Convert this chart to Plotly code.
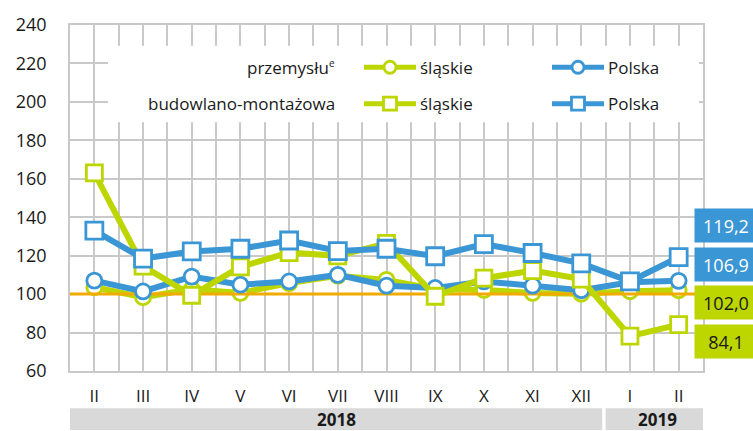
import plotly.graph_objects as go

months = ["II", "III", "IV", "V", "VI", "VII", "VIII", "IX", "X", "XI", "XII", "I", "II"]
years = ["2018", "2019"]
year_spans = [(-0.5, 10.43), (10.5, 12.65)]

ind_slaskie = [103.6, 98.4, 102.5, 100.6, 105.7, 109.6, 107.4, 102.6, 102.2, 100.6, 100.2, 101.5, 102.0]
ind_polska = [107.0, 101.4, 109.1, 104.9, 106.6, 110.0, 104.4, 103.2, 106.6, 104.4, 102.0, 106.2, 106.9]
bud_slaskie = [163.1, 114.6, 99.4, 114.2, 121.6, 119.9, 126.4, 98.9, 108.3, 112.2, 107.8, 78.1, 84.1]
bud_polska = [133.0, 118.5, 122.2, 123.6, 127.9, 122.4, 123.6, 119.7, 126.0, 121.4, 116.0, 106.6, 119.2]

BLUE = "#3a96d4"
GREEN = "#bdd600"
ORANGE = "#f2a900"
GRID = "#c9c9c9"
FONT = "Open Sans"
TXT = "#1a1a1a"

x = list(range(len(months)))

fig = go.Figure()

def line(y, color, symbol, size):
    return go.Scatter(
        x=x, y=y, mode="lines+markers",
        line=dict(color=color, width=6),
        marker=dict(symbol=symbol, size=size, color="white",
                    line=dict(color=color, width=2.8)),
        showlegend=False, hoverinfo="skip", cliponaxis=False,
    )

fig.add_trace(line(ind_slaskie, GREEN, "circle", 15))
fig.add_trace(go.Scatter(x=[-0.5, 12.5], y=[100, 100], mode="lines",
                         line=dict(color=ORANGE, width=3), showlegend=False,
                         hoverinfo="skip"))
fig.add_trace(line(ind_polska, BLUE, "circle", 15))
fig.add_trace(line(bud_slaskie, GREEN, "square", 16))
fig.add_trace(line(bud_polska, BLUE, "square", 17))

L, R, T, B = 70, 50, 19, 60
W, H = 753, 431
pw, ph = W - L - R, H - T - B

def px(xp):
    return (xp - L) / pw

def py(yp):
    return (H - B - yp) / ph

shapes = []
# legend white box
shapes.append(dict(type="rect", xref="paper", yref="paper",
                   x0=px(108), x1=px(699), y0=py(118), y1=py(40),
                   fillcolor="white", line=dict(width=0), layer="above"))

def legend_sample(xl, xr, xc, yc, color, kind):
    shapes.append(dict(type="line", xref="paper", yref="paper",
                       x0=px(xl), x1=px(xr), y0=py(yc), y1=py(yc),
                       line=dict(color=color, width=5), layer="above"))
    r = 6 if kind == "circle" else 6.5
    shapes.append(dict(type=kind, xref="paper", yref="paper",
                       xsizemode="pixel", ysizemode="pixel",
                       xanchor=px(xc), yanchor=py(yc),
                       x0=-r, x1=r, y0=-r, y1=r,
                       fillcolor="white", line=dict(color=color, width=2.8),
                       layer="above"))

legend_sample(364, 416, 390, 62, GREEN, "circle")
legend_sample(552, 604, 578, 62, BLUE, "circle")
legend_sample(364, 416, 390, 99, GREEN, "rect")
legend_sample(552, 604, 578, 99, BLUE, "rect")

# year bands
for (a, b) in year_spans:
    shapes.append(dict(type="rect", xref="x", yref="paper",
                       x0=a, x1=b, y0=py(431), y1=py(409),
                       fillcolor="#d9d9d9", line=dict(width=0), layer="above"))

annotations = []
tf = dict(family=FONT, size=17, color=TXT, weight=500)
annotations.append(dict(text="przemysłu<sup><span style='font-size:10px'>e</span></sup>",
                        xref="paper", yref="paper",
                        x=px(337), y=py(62), xanchor="right", yanchor="middle",
                        showarrow=False, font=tf))
annotations.append(dict(text="budowlano-montażowa", xref="paper", yref="paper",
                        x=px(337), y=py(99), xanchor="right", yanchor="middle",
                        showarrow=False, font=tf))
for yy in (62, 99):
    annotations.append(dict(text="śląskie", xref="paper", yref="paper",
                            x=px(418), y=py(yy), xanchor="left", yanchor="middle",
                            showarrow=False, font=tf))
    annotations.append(dict(text="Polska", xref="paper", yref="paper",
                            x=px(606), y=py(yy), xanchor="left", yanchor="middle",
                            showarrow=False, font=tf))

for (a, b), yr in zip(year_spans, years):
    annotations.append(dict(text="<b>" + yr + "</b>", xref="x", yref="paper",
                            x=(a + b) / 2, y=py(420), xanchor="center",
                            yanchor="middle", showarrow=False,
                            font=dict(family=FONT, size=17, color=TXT)))

# value boxes at right
def fmt(v):
    return f"{v:.1f}".replace(".", ",")

boxes = [
    (bud_polska[-1], BLUE, "white", 223),
    (ind_polska[-1], BLUE, "white", 262.5),
    (ind_slaskie[-1], GREEN, TXT, 301.5),
    (bud_slaskie[-1], GREEN, TXT, 340.5),
]
for v, bg, fc, yc in boxes:
    annotations.append(dict(text=fmt(v), xref="paper", yref="paper",
                            x=px(694), y=py(yc), xanchor="left", yanchor="middle",
                            width=62, height=33, bgcolor=bg, borderpad=0,
                            align="center", valign="middle", showarrow=False,
                            font=dict(family=FONT, size=18, color=fc, weight=500)))

fig.update_layout(
    width=W, height=H,
    margin=dict(l=L, r=R, t=T, b=B),
    plot_bgcolor="white", paper_bgcolor="white",
    shapes=shapes, annotations=annotations,
    font=dict(family=FONT, size=17, color=TXT),
)
fig.update_xaxes(
    range=[-0.5, 12.5], tickmode="array", tickvals=x, ticktext=months,
    showgrid=True, gridcolor=GRID, gridwidth=1.5,
    minor=dict(tickmode="array", tickvals=[i - 0.5 for i in range(len(months) + 1)],
               showgrid=True, gridcolor=GRID, gridwidth=1.5),
    showline=True, linecolor=GRID, linewidth=1.5, mirror=True,
    ticks="", ticklabelstandoff=9, zeroline=False,
    tickfont=dict(family=FONT, size=17, color=TXT, weight=500),
)
fig.update_yaxes(
    range=[60, 240], dtick=20, tick0=60,
    showgrid=True, gridcolor=GRID, gridwidth=1.5,
    showline=True, linecolor=GRID, linewidth=1.5, mirror=True,
    ticks="", ticklabelstandoff=18, zeroline=False,
    tickfont=dict(family=FONT, size=18, color=TXT, weight=500),
)

fig.write_html("out.html", config={"displayModeBar": False},
               post_script="document.body.style.margin='0';document.body.style.overflow='hidden';")
